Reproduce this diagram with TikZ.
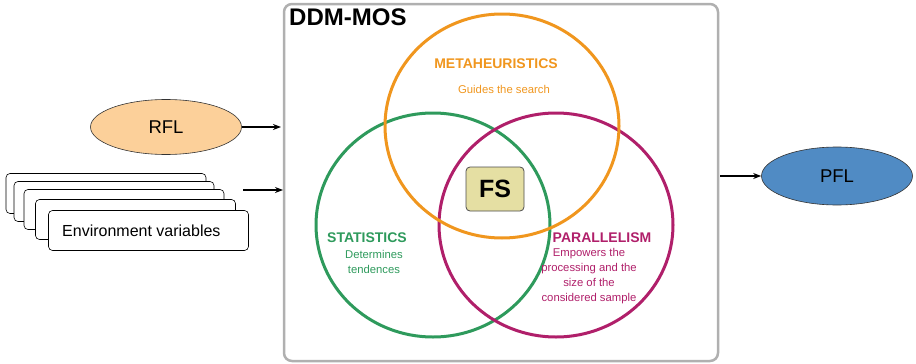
\documentclass[tikz,border=0pt]{standalone}
\usepackage{fontspec}
\setmainfont{Liberation Sans}
\usetikzlibrary{shapes.geometric,arrows.meta}
\definecolor{orng}{HTML}{F0961E}
\definecolor{grn}{HTML}{2E9A5C}
\definecolor{prp}{HTML}{B01F6A}
\definecolor{boxgray}{HTML}{B0B0B0}
\definecolor{rflfill}{HTML}{FCD09A}
\definecolor{pflfill}{HTML}{508BC4}
\definecolor{fsfill}{HTML}{E5DFA3}
\tikzset{
  conn/.style={line width=1.6pt,-{Stealth[length=8pt,width=6pt]}},
  envbox/.style={draw=black,fill=white,rounded corners=4pt,minimum width=200pt,minimum height=40pt,line width=0.6pt,inner sep=0pt},
  oval/.style={ellipse,draw=black!80,line width=0.6pt,minimum width=150pt,minimum height=56pt,font=\fontsize{18.5}{20}\selectfont},
  venn/.style={line width=3pt},
  ttl/.style={font=\bfseries\fontsize{14}{16}\selectfont},
  desc/.style={font=\fontsize{11.3}{15}\selectfont,align=center}
}
\begin{document}
\begin{tikzpicture}[x=1pt,y=-1pt]
\useasboundingbox (0,0) rectangle (916,364);
% main box
\node[draw=boxgray,line width=2.5pt,rounded corners=8pt,minimum width=434pt,minimum height=357pt,inner sep=0pt] (main) at (501,182.5) {};
\node[anchor=north west,font=\bfseries\fontsize{24}{26}\selectfont,inner sep=0pt] (ddm) at (289,9) {DDM-MOS};
% venn
\draw[venn,draw=grn] (433,225) ellipse [x radius=117pt,y radius=112pt];
\draw[venn,draw=prp] (556,225) ellipse [x radius=117pt,y radius=112pt];
\draw[venn,draw=orng] (502,126) ellipse [x radius=117pt,y radius=112pt];
\node[ttl,text=orng] (meta) at (496,64) {METAHEURISTICS};
\node[desc,text=orng] (metad) at (504,89) {Guides the search};
\node[ttl,text=grn] (stat) at (367,238) {STATISTICS};
\node[desc,text=grn,anchor=north] (statd) at (374,247) {Determines\\tendences};
\node[ttl,text=prp] (par) at (602,238) {PARALLELISM};
\node[desc,text=prp,anchor=north] (pard) at (589,245) {Empowers the\\processing and the\\size of the\\considered sample};
\node[draw=black!70,fill=fsfill,rounded corners=4pt,line width=0.8pt,minimum width=58pt,minimum height=44pt,font=\bfseries\fontsize{25}{27}\selectfont] (fs) at (495,189) {FS};
% RFL
\node[oval,fill=rflfill,minimum width=151pt,minimum height=55pt] (rfl) at (166,127) {RFL};
\coordinate (rflend) at (281,127);
\draw[conn] (rfl) -- (rflend);
% env stack
\node[envbox] (env1) at (106,193.5) {};
\node[envbox] (env2) at (114,201.5) {};
\node[envbox] (env3) at (124,209.5) {};
\node[envbox] (env4) at (135.5,219.5) {};
\node[envbox] (env5) at (148.5,230.5) {};
\node[font=\fontsize{16}{18}\selectfont,anchor=west,inner sep=0pt] (envtxt) at (62,231) {Environment variables};
\coordinate (envstart) at (243,190);
\coordinate (envend) at (283,190);
\draw[conn] (envstart) -- (envend);
% PFL
\node[oval,fill=pflfill,minimum width=151pt,minimum height=58pt] (pfl) at (837,176) {PFL};
\coordinate (pflstart) at (720,176);
\draw[conn] (pflstart) -- (pfl);
\end{tikzpicture}
\end{document}
